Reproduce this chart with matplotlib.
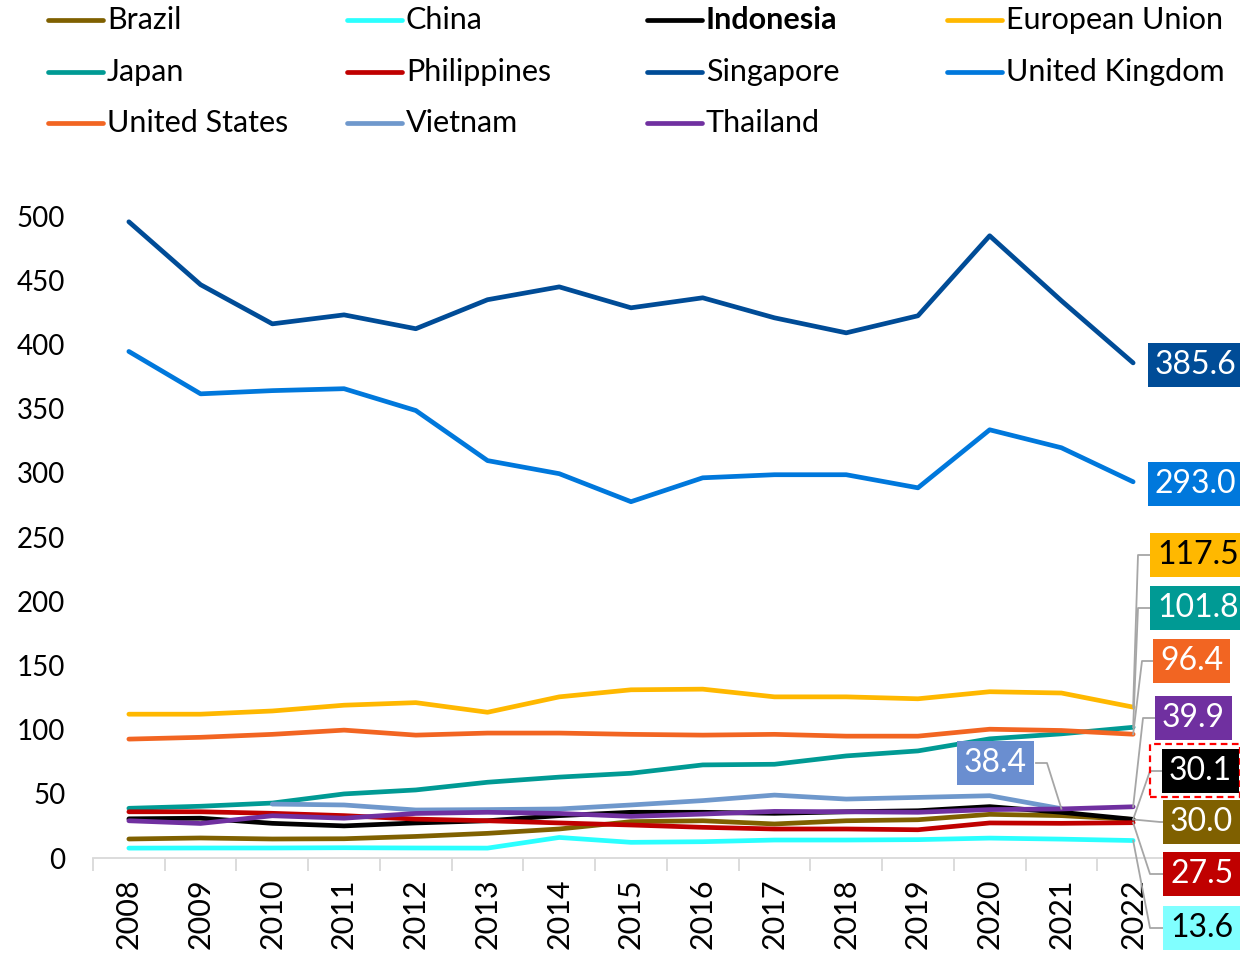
import numpy as np
import matplotlib
matplotlib.use('Agg')
import matplotlib.pyplot as plt
from matplotlib.lines import Line2D
from matplotlib.patches import Rectangle

plt.rcParams['font.family'] = ['Lato', 'DejaVu Sans']

nan = np.nan

# Data
years = ['2008', '2009', '2010', '2011', '2012', '2013', '2014', '2015',
         '2016', '2017', '2018', '2019', '2020', '2021', '2022']
brazil = [14.8, 15.6, 14.8, 15.0, 16.8, 19.2, 22.6, 28.3, 29.0, 26.5, 29.0, 29.8, 34.0, 33.0, 30.0]
china = [7.7, 7.8, 7.8, 8.0, 7.8, 7.7, 16.0, 12.2, 12.7, 14.0, 14.0, 14.3, 15.5, 14.7, 13.6]
indonesia = [30.5, 31.0, 27.0, 25.0, 27.3, 29.0, 33.0, 35.6, 35.6, 34.8, 36.0, 36.8, 40.0, 35.6, 30.1]
eu = [112.0, 112.0, 114.5, 119.0, 121.0, 113.5, 125.5, 131.0, 131.5, 125.5, 125.5, 124.0, 129.5, 128.5, 117.5]
japan = [38.7, 40.3, 42.8, 49.9, 53.0, 59.0, 63.0, 66.0, 72.5, 73.0, 79.5, 83.4, 92.8, 96.7, 101.8]
philippines = [36.0, 36.0, 34.8, 33.0, 30.3, 29.0, 27.3, 25.7, 23.9, 22.6, 22.6, 22.0, 27.3, 27.0, 27.5]
singapore = [495.5, 446.5, 416.0, 423.0, 412.2, 434.8, 444.8, 428.5, 436.3, 420.7, 409.0, 422.3, 484.6, 434.0, 385.6]
uk = [394.5, 361.5, 364.0, 365.5, 348.5, 309.5, 299.3, 277.5, 296.1, 298.5, 298.5, 288.3, 333.5, 319.5, 293.0]
us = [92.6, 94.0, 96.3, 99.6, 95.7, 97.3, 97.3, 96.3, 95.7, 96.3, 94.9, 94.9, 100.3, 99.3, 96.4]
vietnam = [nan, nan, 42.0, 41.3, 37.4, 37.7, 38.2, 41.3, 44.7, 49.0, 45.9, 47.2, 48.5, 38.4, nan]
thailand = [29.0, 26.9, 32.9, 31.0, 34.7, 35.6, 34.7, 32.4, 34.2, 36.3, 36.0, 35.6, 37.7, 38.2, 39.9]

series = [
    ('Brazil', brazil, '#7F6000'),
    ('China', china, '#2BFFFF'),
    ('Indonesia', indonesia, '#000000'),
    ('European Union', eu, '#FFB800'),
    ('Japan', japan, '#009A94'),
    ('Philippines', philippines, '#C00000'),
    ('Singapore', singapore, '#004C97'),
    ('United Kingdom', uk, '#0078DC'),
    ('United States', us, '#F26522'),
    ('Vietnam', vietnam, '#6F98CC'),
    ('Thailand', thailand, '#7030A0'),
]

W, H = 1240, 955
fig = plt.figure(figsize=(W / 100, H / 100), dpi=100)


def fx(x):
    return x / W


def fy(y):
    return 1 - y / H


ax = fig.add_axes([fx(93), fy(858), fx(1169) - fx(93), fy(216) - fy(858)])
x = np.arange(len(years))

for name, vals, col in series:
    ax.plot(x, vals, color=col, lw=3.4, solid_capstyle='round', clip_on=False)

ax.set_xlim(-0.5, len(years) - 0.5)
ax.set_ylim(0, 500)
ax.set_yticks(np.arange(0, 501, 50))
ax.tick_params(axis='y', length=0, pad=20, labelsize=20)
ax.set_xticks(x)
ax.set_xticklabels(years, rotation=90, fontsize=22, va='top')
ax.set_xticks(np.arange(-0.5, len(years), 1), minor=True)
ax.tick_params(axis='x', which='major', length=0, pad=15)
ax.tick_params(axis='x', which='minor', length=9, width=1.3, color='#D9D9D9')
for s in ['top', 'right', 'left']:
    ax.spines[s].set_visible(False)
ax.spines['bottom'].set_color('#D9D9D9')
ax.spines['bottom'].set_linewidth(1.3)

# Legend, laid out on a 4-column grid
col_x = [48, 347, 647, 947]
row_y = [20, 72, 123]
for i, (name, vals, col) in enumerate(series):
    r, c = divmod(i, 4)
    lx, ly = col_x[c], row_y[r]
    fig.add_artist(Line2D([fx(lx), fx(lx + 55)], [fy(ly), fy(ly)], color=col, lw=3.4,
                          solid_capstyle='round'))
    fig.text(fx(lx + 59), fy(ly), name, fontsize=22, va='center', ha='left',
             fontweight='bold' if name == 'Indonesia' else 'normal')

# Value labels with leader lines
fig.canvas.draw()


def point_px(i, v):
    dx, dy = ax.transData.transform((i, v))
    return dx, H - dy


labels = [
    # value, index, box left, box center y, bg, text colour, elbow x
    (singapore[14], 14, 1148, 365, '#004C97', 'white', None),
    (uk[14], 14, 1148, 484, '#0078DC', 'white', None),
    (eu[14], 14, 1150, 555, '#FFB800', 'black', 1138),
    (japan[14], 14, 1150, 608, '#009A94', 'white', 1138),
    (us[14], 14, 1153, 661, '#F26522', 'white', 1142),
    (thailand[14], 14, 1155, 718, '#7030A0', 'white', 1143),
    (indonesia[14], 14, 1162, 771, '#000000', 'white', 1150),
    (brazil[14], 14, 1163, 822, '#7F6000', 'white', 1160),
    (philippines[14], 14, 1163, 874, '#C00000', 'white', 1150),
    (china[14], 14, 1163, 928, '#80FFFF', 'black', 1150),
]

grey = '#A6A6A6'
for v, i, bx, cy, bg, tc, ex in labels:
    fig.text(fx(bx + 7), fy(cy), f'{v:.1f}', fontsize=23, color=tc, va='center', ha='left',
             bbox=dict(boxstyle='square,pad=0.22', fc=bg, ec='none'), zorder=5)
    if ex is not None:
        px, py = point_px(i, v)
        fig.add_artist(Line2D([fx(px), fx(ex), fx(bx)], [fy(py), fy(cy), fy(cy)],
                              color=grey, lw=1.3, zorder=4))

# Indonesia label highlight
fig.add_artist(Rectangle((fx(1150), fy(797)), fx(1240) - fx(1150), fy(744) - fy(797),
                         fill=False, ec='#FF0000', ls=(0, (3, 2)), lw=1.6, zorder=6))

# Vietnam label (last value in 2021) placed to the left
vx, vy = point_px(13, vietnam[13])
fig.text(fx(964), fy(763), f'{vietnam[13]:.1f}', fontsize=23, color='white', va='center', ha='left',
         bbox=dict(boxstyle='square,pad=0.22', fc='#6A8ED0', ec='none'), zorder=5)
fig.add_artist(Line2D([fx(1036), fx(1047), fx(vx)], [fy(763), fy(763), fy(vy)],
                      color=grey, lw=1.3, zorder=4))

fig.savefig('out.png', dpi=100)
